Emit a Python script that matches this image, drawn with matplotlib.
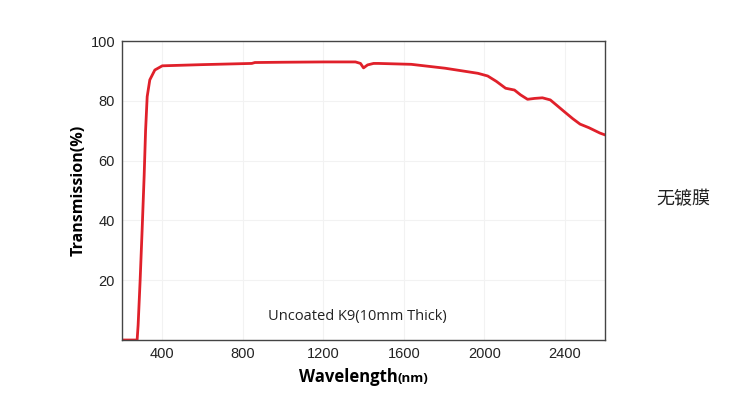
import matplotlib.pyplot as plt

# transmission curve of uncoated K9
wavelength = [200, 275, 280, 290, 300, 310, 317, 325, 338, 363, 400, 600, 845, 860,
              1000, 1200, 1360, 1385, 1400, 1420, 1450, 1474, 1637, 1805, 1968, 2017,
              2060, 2106, 2150, 2180, 2215, 2250, 2289, 2328, 2360, 2397, 2440, 2476,
              2520, 2575, 2600]
transmission = [0, 0, 5, 20, 37, 55, 70, 81.4, 87, 90.3, 91.7, 92.1, 92.5, 92.8,
                92.9, 93.0, 93.0, 92.5, 91.0, 92.0, 92.5, 92.5, 92.2, 90.9, 89.2, 88.3,
                86.5, 84.2, 83.6, 82.0, 80.5, 80.8, 81.0, 80.3, 78.5, 76.4, 74.0, 72.2,
                71.0, 69.2, 68.6]
x_ticks = [400, 800, 1200, 1600, 2000, 2400]
y_ticks = [20, 40, 60, 80, 100]

plt.rcParams['font.family'] = ['Open Sans', 'Noto Sans CJK SC', 'DejaVu Sans']

fig = plt.figure(figsize=(7.5, 3.95), dpi=100)
ax = fig.add_axes([0.1627, 0.1392, 0.644, 0.757])

ax.plot(wavelength, transmission, color='#e0202a', linewidth=2)

ax.set_xlim(200, 2600)
ax.set_ylim(0, 100)
ax.set_xticks(x_ticks)
ax.set_yticks(y_ticks)
ax.tick_params(length=0, labelsize=10.5, pad=5)
for lab in ax.get_xticklabels() + ax.get_yticklabels():
    lab.set_family(['Liberation Sans', 'DejaVu Sans'])
    lab.set_color('#222222')
ax.grid(True, color='#f2f2f2', linewidth=0.8)
for s in ax.spines.values():
    s.set_color('#444444')
    s.set_linewidth(1)

ax.set_ylabel('Transmission(%)', fontsize=11.5, fontweight='bold', labelpad=3)
fig.text(0.53, 0.033, 'Wavelength', fontsize=12, fontweight='bold', ha='right')
fig.text(0.53, 0.033, '(nm)', fontsize=9.5, fontweight='bold', ha='left')

ax.text(1370, 8, 'Uncoated K9(10mm Thick)', fontsize=10.5, ha='center', va='center',
        color='#222222')
fig.text(0.911, 0.496, '无镀膜', fontsize=13, ha='center', va='center',
         family=['Noto Sans CJK SC', 'DejaVu Sans'], color='#222222')

fig.savefig('out.png', dpi=100)
